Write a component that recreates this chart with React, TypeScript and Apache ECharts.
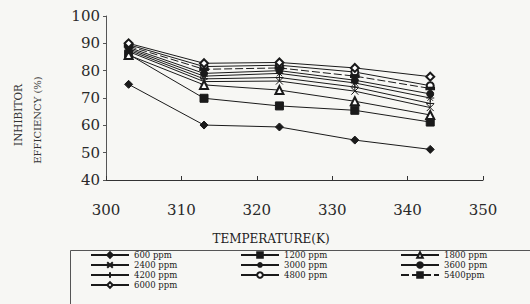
import React, { useEffect, useRef } from "react";
import * as echarts from "echarts";

const temperatures = [303, 313, 323, 333, 343];
const seriesNames = ["600 ppm", "1200 ppm", "1800 ppm", "2400 ppm", "3000 ppm", "3600 ppm", "4200 ppm", "4800 ppm", "5400ppm", "6000 ppm"];
const v600 = [75, 60.1, 59.4, 54.6, 51.2];
const v1200 = [86, 69.9, 67.1, 65.5, 61.2];
const v1800 = [85.7, 74.8, 72.9, 68.8, 63.8];
const v2400 = [87, 76, 76.2, 72.5, 66.5];
const v3000 = [88, 78, 79, 75.5, 70];
const v3600 = [88.5, 79, 80, 76.5, 71.5];
const v4200 = [87.5, 77, 77.5, 74, 68];
const v4800 = [89.5, 81.5, 82, 79.5, 74.5];
const v5400 = [89, 80.5, 81, 78, 73.5];
const v6000 = [90, 82.7, 83, 81, 77.8];
const yTicks = [40, 50, 60, 70, 80, 90, 100];
const xTicks = [300, 310, 320, 330, 340, 350];
const legendColumns = [
  ["600 ppm", "2400 ppm", "4200 ppm", "6000 ppm"],
  ["1200 ppm", "3000 ppm", "4800 ppm"],
  ["1800 ppm", "3600 ppm", "5400ppm"],
];

const INK = "#1a1a1a";
const SERIF = "'DejaVu Serif', 'Liberation Serif', serif";

const symbols: Record<string, { symbol: string; size: any }> = {
  "600 ppm": { symbol: "diamond", size: 8 },
  "1200 ppm": { symbol: "rect", size: 8 },
  "1800 ppm": { symbol: "emptyTriangle", size: 8 },
  "2400 ppm": { symbol: "path://M0,0L10,10M10,0L0,10", size: 7 },
  "3000 ppm": { symbol: "path://M0,5L10,5M5,0L5,10M1.5,1.5L8.5,8.5M8.5,1.5L1.5,8.5", size: 8 },
  "3600 ppm": { symbol: "circle", size: 7 },
  "4200 ppm": { symbol: "path://M0,5L10,5M5,0L5,10", size: 8 },
  "4800 ppm": { symbol: "emptyCircle", size: 7 },
  "5400ppm": { symbol: "rect", size: [8, 3] },
  "6000 ppm": { symbol: "emptyDiamond", size: 8 },
};

const allValues = [v600, v1200, v1800, v2400, v3000, v3600, v4200, v4800, v5400, v6000];

export default function App() {
  const ref = useRef<HTMLDivElement>(null);
  useEffect(() => {
    if (!ref.current) return;
    const chart = echarts.init(ref.current, undefined, { renderer: "svg" });
    const series = seriesNames.map((name, i) => {
      const s = symbols[name];
      return {
        name,
        type: "line",
        data: temperatures.map((t, j) => [t, allValues[i][j]]),
        symbol: s.symbol,
        symbolSize: s.size,
        showAllSymbol: true,
        lineStyle: { color: INK, width: 1, type: name === "5400ppm" ? [8, 3] : "solid" },
        itemStyle: { color: INK, borderColor: INK, borderWidth: 1 },
        emphasis: { disabled: true },
        z: 2,
      };
    });
    const colLeft = [90, 240, 400];
    const rowCenter = [255, 265, 275, 285];
    const legends: any[] = [];
    legendColumns.forEach((col, ci) => {
      col.forEach((name, ri) => {
        legends.push({
          orient: "horizontal",
          left: colLeft[ci],
          top: rowCenter[ri] - 4.5,
          itemWidth: 38,
          itemHeight: 7,
          itemGap: 0,
          padding: 0,
          selectedMode: false,
          textStyle: { fontFamily: SERIF, fontSize: 8.5, color: INK, lineHeight: 9 },
          data: [name],
        });
      });
    });
    chart.setOption({
      animation: false,
      backgroundColor: "#f7f7f4",
      textStyle: { fontFamily: SERIF },
      grid: { left: 106, right: 47, top: 16, bottom: 124 },
      xAxis: {
        type: "value",
        min: 300,
        max: 350,
        interval: 10,
        axisLine: { lineStyle: { color: "#333", width: 1 } },
        axisTick: { inside: true, length: 4, lineStyle: { color: "#333" } },
        axisLabel: { fontFamily: SERIF, fontSize: 15, color: "#2a2a2a", margin: 22, formatter: (v: number) => (xTicks.includes(v) ? String(v) : "") },
        splitLine: { show: false },
      },
      yAxis: {
        type: "value",
        min: 40,
        max: 100,
        interval: 10,
        axisLine: { show: true, lineStyle: { color: "#555", width: 1 } },
        axisTick: { show: true, length: 3, lineStyle: { color: "#555" } },
        axisLabel: { fontFamily: SERIF, fontSize: 15, color: "#2a2a2a", margin: 6, formatter: (v: number) => (yTicks.includes(v) ? String(v) : "") },
        splitLine: { show: false },
      },
      legend: legends,
      graphic: [
        {
          type: "rect",
          shape: { x: 70.5, y: 250.5, width: 480, height: 70 },
          style: { fill: "none", stroke: "#555", lineWidth: 1 },
          z: 0,
        },
        {
          type: "text",
          x: 271,
          y: 239,
          style: { text: "TEMPERATURE(K)", font: `12px ${SERIF}`, fill: "#222", align: "center", verticalAlign: "middle" },
        },
        {
          type: "text",
          x: 18,
          y: 115,
          rotation: Math.PI / 2,
          style: { text: "INHIBITOR", font: `10.5px ${SERIF}`, fill: "#333", align: "center", verticalAlign: "middle" },
        },
        {
          type: "text",
          x: 37,
          y: 120,
          rotation: Math.PI / 2,
          style: { text: "EFFICIENCY (%)", font: `10px ${SERIF}`, fill: "#333", align: "center", verticalAlign: "middle" },
        },
      ],
      series,
    });
    return () => chart.dispose();
  }, []);
  return <div ref={ref} style={{ width: 530, height: 304, position: "absolute", left: 0, top: 0 }} />;
}
